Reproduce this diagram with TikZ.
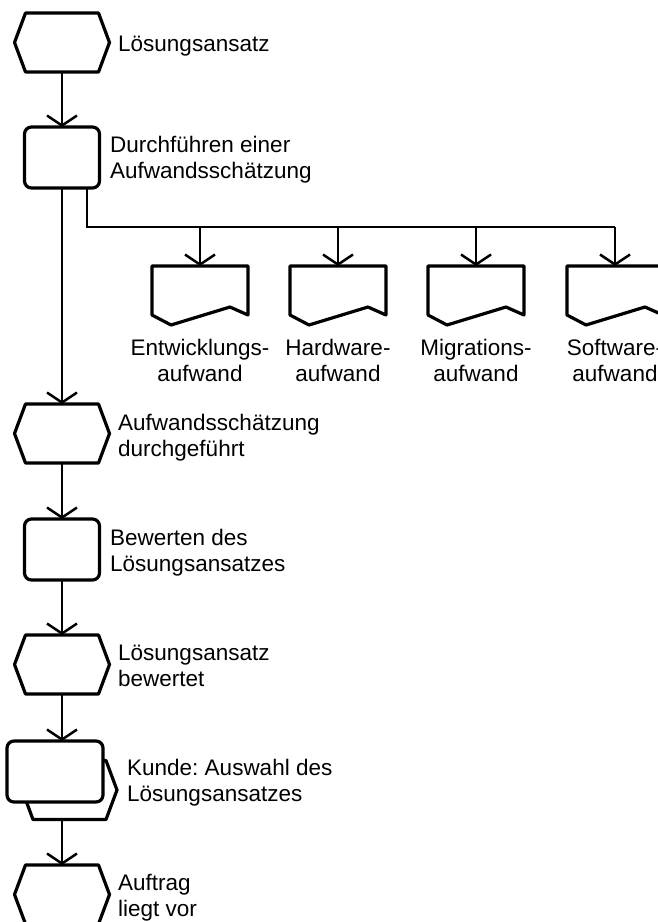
\documentclass[tikz,border=0pt]{standalone}
\usepackage{fontspec}
\setmainfont{Liberation Sans}
\usetikzlibrary{arrows.meta}
\frenchspacing

\begin{document}
\begin{tikzpicture}[x=1pt,y=-1pt,
  outline/.style={line width=3.2pt, line join=round},
  box/.style={draw=none, inner sep=0pt, outer sep=0pt},
  funcbox/.style={box, draw, outline, rounded corners=7pt,
    minimum width=75pt, minimum height=61pt, fill=white},
  eventbox/.style={box, minimum width=95pt, minimum height=59pt},
  docbox/.style={box, minimum width=96pt, minimum height=49pt},
  flow/.style={line width=2.5pt, -{Straight Barb[length=10pt,width=30pt,line width=2.5pt]}},
  wire/.style={line width=2.5pt},
  label/.style={inner sep=0pt, anchor=base west,
    font=\fontsize{22.5}{26}\selectfont},
  clabel/.style={inner sep=0pt, anchor=base,
    font=\fontsize{22.5}{26}\selectfont}]

\useasboundingbox (0,0) rectangle (658,922);
\clip (0,0) rectangle (658,922);

% hexagonal event outline around a named node
\newcommand\eventshape[1]{%
  \draw[outline, fill=white]
    ([xshift=11pt]#1.north west) -- ([xshift=-11pt]#1.north east) --
    (#1.east) -- ([xshift=-11pt]#1.south east) --
    ([xshift=11pt]#1.south west) -- (#1.west) -- cycle;}
% document outline with wavy lower edge
\newcommand\docshape[1]{%
  \draw[outline, fill=white]
    (#1.south west) -- (#1.north west) -- (#1.north east) --
    (#1.south east) -- ([shift={(-18pt,8pt)}]#1.south east) --
    ([shift={(19pt,-10pt)}]#1.south west) -- cycle;}
\newcommand\twolines[2]{\begin{tabular}[t]{@{}l@{}}#1\\#2\end{tabular}}
\newcommand\twolinesc[2]{\begin{tabular}[t]{@{}c@{}}#1\\#2\end{tabular}}

% main chain
\node[eventbox] (e1) at (62,42.5) {};
\eventshape{e1}
\node[funcbox] (r1) at (62,157.5) {};
\node[eventbox] (e2) at (62,433.5) {};
\eventshape{e2}
\node[funcbox] (r2) at (62,549.5) {};
\node[eventbox] (e3) at (62,664.5) {};
\eventshape{e3}
\node[eventbox] (e3b) at (69.5,790) {};
\eventshape{e3b}
\node[funcbox, minimum width=96pt] (r3) at (55,771.5) {};
\node[eventbox] (e4) at (62,894.5) {};
\eventshape{e4}

% output documents
\foreach \i/\x in {1/200, 2/338, 3/476, 4/615} {
  \node[docbox] (d\i) at (\x,290.5) {};
  \docshape{d\i}
}

% flow connectors
\draw[flow] (e1) -- (r1);
\draw[flow] (r1) -- (e2);
\draw[flow] (e2) -- (r2);
\draw[flow] (r2) -- (e3);
\draw[flow] (e3.south) -- (e3.south |- r3.north);
\draw[flow] (e3b.south -| e4.north) -- (e4);

% branch to the documents
\coordinate (tap) at ([xshift=25pt]r1.south);
\coordinate (bus) at (87,227);
\draw[wire, line join=miter] (tap) -- (bus) -- (bus -| d4.north);
\foreach \i in {1,...,4}
  \draw[flow] (bus -| d\i.north) -- (d\i);

% texts
\node[label] (t1) at (118,51) {Lösungsansatz};
\node[label] (t2) at (110,152) {\twolines{Durchführen einer}{Aufwandsschätzung}};
\node[clabel] (l1) at (200,355) {\twolinesc{Entwicklungs-}{aufwand}};
\node[clabel] (l2) at (338,355) {\twolinesc{Hardware-}{aufwand}};
\node[clabel] (l3) at (476,355) {\twolinesc{Migrations-}{aufwand}};
\node[clabel] (l4) at (615,355) {\twolinesc{Software-}{aufwand}};
\node[label] (t3) at (118,430) {\twolines{Aufwandsschätzung}{durchgeführt}};
\node[label] (t4) at (110,545) {\twolines{Bewerten des}{Lösungsansatzes}};
\node[label] (t5) at (118,660) {\twolines{Lösungsansatz}{bewertet}};
\node[label] (t6) at (127,775) {\twolines{Kunde: Auswahl des}{Lösungsansatzes}};
\node[label] (t7) at (118,890) {\twolines{Auftrag}{liegt vor}};
\end{tikzpicture}
\end{document}
